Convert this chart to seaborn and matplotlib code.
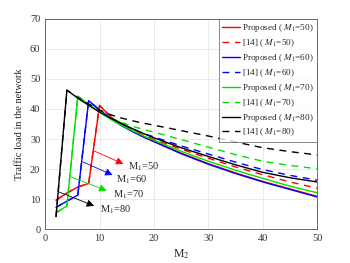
import matplotlib
matplotlib.use("Agg")
import matplotlib.pyplot as plt
import seaborn as sns
import pandas as pd

# -----------------------------------
# DATA
# -----------------------------------

m2 = [2, 4, 6, 8, 10, 12, 14, 16, 18, 20, 25, 30, 35, 40, 45, 50]

prop_50 = [9.6, 12.0, 14.0, 15.2, 41.2, 37.5, 34.8, 32.7, 30.9, 29.3, 25.3, 21.8, 18.7, 15.9, 13.4, 10.9]
ref_50 = [9.6, 12.0, 14.0, 15.2, 41.2, 37.6, 35.0, 33.0, 31.3, 29.9, 26.6, 23.6, 20.7, 18.1, 15.7, 13.6]
prop_60 = [7.2, 9.3, 11.3, 42.8, 39.6, 36.8, 34.5, 32.5, 30.7, 29.1, 25.1, 21.6, 18.5, 15.7, 13.2, 10.7]
ref_60 = [7.2, 9.3, 11.3, 42.8, 39.7, 37.1, 35.0, 33.3, 31.9, 30.7, 27.7, 25.0, 22.3, 19.8, 17.9, 16.3]
prop_70 = [5.4, 7.7, 44.3, 41.5, 38.9, 36.6, 34.6, 32.8, 31.1, 29.6, 25.9, 22.6, 19.6, 16.9, 14.3, 12.1]
ref_70 = [5.4, 7.7, 44.3, 41.6, 39.2, 37.1, 35.5, 34.3, 33.2, 32.3, 29.8, 27.3, 24.8, 22.6, 21.2, 20.1]
prop_80 = [4.1, 46.3, 43.6, 41.2, 39.0, 37.0, 35.2, 33.5, 31.9, 30.4, 27.1, 24.2, 21.4, 18.9, 17.1, 15.7]
ref_80 = [4.1, 46.3, 43.8, 41.7, 39.7, 38.1, 37.0, 36.1, 35.3, 34.6, 32.8, 31.0, 29.0, 27.1, 25.8, 24.7]

m1_values = [50, 60, 70, 80]
colors = ["#ff0000", "#0000ff", "#00e000", "#000000"]
proposed = [prop_50, prop_60, prop_70, prop_80]
ref14 = [ref_50, ref_60, ref_70, ref_80]

# arrow annotations: (tail, head, text position)
arrow_tails = [(8.9, 26.1), (6.9, 22.4), (4.7, 17.4), (2.5, 12.4)]
arrow_heads = [(14.4, 21.7), (12.4, 18.0), (11.3, 12.8), (9.0, 7.7)]
text_pos = [(15.3, 20.8), (13.0, 16.3), (12.4, 11.3), (10.0, 6.6)]

# -----------------------------------
# STYLE
# -----------------------------------

sns.set_style("whitegrid")
plt.rcParams["font.family"] = ["Liberation Serif", "DejaVu Serif"]
plt.rcParams["mathtext.fontset"] = "stix"

fig = plt.figure(figsize=(3.5, 2.63), dpi=100)
ax = fig.add_axes([0.129, 0.129, 0.777, 0.799])

# -----------------------------------
# PLOT
# -----------------------------------

for m1, c, yp, yr in zip(m1_values, colors, proposed, ref14):
    sns.lineplot(x=m2, y=yp, ax=ax, color=c, linestyle="-", linewidth=1.0,
                 label=f"Proposed ( $M_1$=" + f"{m1})")
    sns.lineplot(x=m2, y=yr, ax=ax, color=c, linestyle=(0, (5, 4)), linewidth=1.0,
                 label=f"[14] ( $M_1$=" + f"{m1})")

for m1, c, tail, head, tp in zip(m1_values, colors, arrow_tails, arrow_heads, text_pos):
    ax.annotate("", xy=head, xytext=tail,
                arrowprops=dict(arrowstyle="-|>", color=c, lw=0.6, mutation_scale=11,
                                shrinkA=0, shrinkB=0))
    ax.text(tp[0], tp[1], f"M$_1$={m1}", fontsize=7.5, va="center", ha="left")

ax.set_xlim(0, 50)
ax.set_ylim(0, 70)
ax.set_xticks(range(0, 51, 10))
ax.set_yticks(range(0, 71, 10))
ax.tick_params(labelsize=7.5, colors="#333333", direction="in", length=2)
ax.grid(True, color="#e6e6e6", linewidth=0.6)
for s in ax.spines.values():
    s.set_color("#555555")
    s.set_linewidth(0.6)

ax.set_xlabel("M$_2$", fontsize=8.5, labelpad=3)
ax.set_ylabel("Traffic load in the network", fontsize=7.5, labelpad=4)

leg = ax.legend(loc="upper right", fontsize=6.6, frameon=True, fancybox=False,
                borderaxespad=0, handlelength=1.9, labelspacing=0.34,
                borderpad=0.35, handletextpad=0.3)
leg.get_frame().set_edgecolor("#555555")
leg.get_frame().set_linewidth(0.6)

fig.savefig("out.png", dpi=100)
